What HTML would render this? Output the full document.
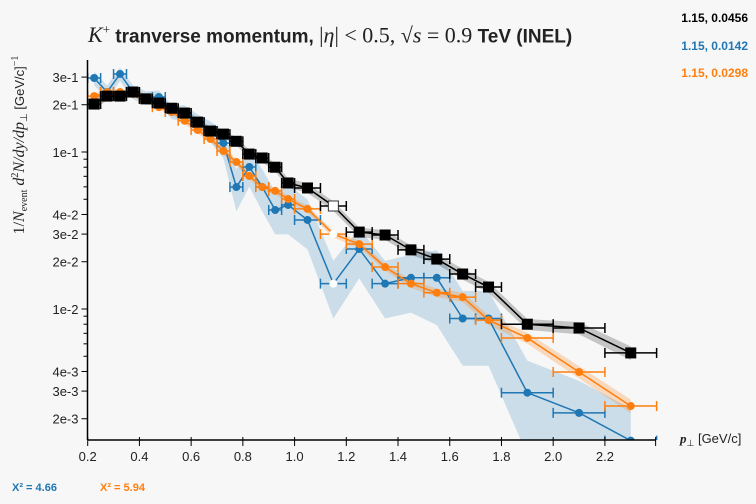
<!DOCTYPE html>
<html><head><meta charset="utf-8">
<style>
body{margin:0;background:#f7f7f7;}
#wrap{position:relative;width:756px;height:504px;background:#f7f7f7;font-family:"Liberation Sans",sans-serif;overflow:hidden}
.leg{position:absolute;right:8px;font-size:12px;font-weight:bold}
</style></head><body>
<div id="wrap">
<div style="position:absolute;left:88px;top:22px;font-size:19px;font-weight:bold;color:#222;white-space:nowrap"><span style="font-family:'Liberation Serif',serif;font-style:italic;font-weight:normal;font-size:22px">K<sup style="font-size:13px;font-style:normal">+</sup></span> tranverse momentum, <span style="font-family:'Liberation Serif',serif;font-weight:normal;font-size:22px">|<i>η</i>| &lt; 0.5, √<i>s</i> = 0.9</span> TeV (INEL)</div>
<div class="leg" style="top:11px;color:#000">1.15, 0.0456</div>
<div class="leg" style="top:39px;color:#1f77b4">1.15, 0.0142</div>
<div class="leg" style="top:66px;color:#ff7f0e">1.15, 0.0298</div>
<div style="position:absolute;left:12px;top:482px;font-size:11px;font-weight:bold;color:#1f77b4">X² = 4.66</div>
<div style="position:absolute;left:100px;top:482px;font-size:11px;font-weight:bold;color:#ff7f0e">X² = 5.94</div>
<svg id="svg" width="756" height="504" style="position:absolute;left:0;top:0"></svg>
</div>
<script>
const pts = [0.225,0.275,0.325,0.375,0.425,0.475,0.525,0.575,0.625,0.675,0.725,0.775,0.825,0.875,0.925,0.975,1.05,1.15,1.25,1.35,1.45,1.55,1.65,1.75,1.9,2.1,2.3];
const xerr = [0.025,0.025,0.025,0.025,0.025,0.025,0.025,0.025,0.025,0.025,0.025,0.025,0.025,0.025,0.025,0.025,0.05,0.05,0.05,0.05,0.05,0.05,0.05,0.05,0.1,0.1,0.1];
const blackVals = [0.202,0.227,0.227,0.241,0.218,0.205,0.19,0.177,0.155,0.136,0.130,0.117,0.097,0.0916,0.080,0.0635,0.059,0.0453,0.0309,0.0296,0.0238,0.0208,0.0167,0.0138,0.0080,0.00757,0.00525];
const blueVals = [0.296,0.241,0.314,0.241,0.221,0.224,0.18,0.177,0.155,0.136,0.114,0.0598,0.0803,0.0598,0.0427,0.046,0.0369,0.0145,0.0241,0.0145,0.0158,0.0158,0.0087,0.0087,0.00293,0.00218,0.00145];
const orangeVals = [0.227,0.241,0.241,0.234,0.218,0.193,0.18,0.158,0.138,0.121,0.1015,0.0864,0.0703,0.0598,0.0565,0.0502,0.0434,0.030,0.0259,0.0185,0.0145,0.0127,0.0119,0.0085,0.00654,0.00397,0.00241];
const blackRel = [0.08,0.06,0.06,0.06,0.06,0.06,0.06,0.06,0.06,0.06,0.06,0.06,0.06,0.06,0.06,0.07,0.07,0.07,0.07,0.07,0.07,0.07,0.08,0.08,0.08,0.09,0.1];
const blueRel = [0.1,0.1,0.1,0.1,0.1,0.1,0.1,0.12,0.12,0.15,0.2,0.3,0.25,0.3,0.3,0.35,0.35,0.4,0.35,0.4,0.4,0.5,0.5,0.5,0.6,0.6,0.6];
const orangeRel = [0.04,0.04,0.04,0.04,0.04,0.04,0.04,0.05,0.05,0.05,0.05,0.05,0.05,0.05,0.05,0.05,0.05,0.05,0.05,0.05,0.06,0.06,0.07,0.07,0.08,0.09,0.1];
const xTicks = [0.2,0.4,0.6,0.8,1.0,1.2,1.4,1.6,1.8,2.0,2.2];
const yTicks = [0.3,0.2,0.1,0.04,0.03,0.02,0.01,0.004,0.003,0.002];
const yTickLabels = ["3e-1","2e-1","1e-1","4e-2","3e-2","2e-2","1e-2","4e-3","3e-3","2e-3"];
const yMinor = [0.09,0.08,0.07,0.06,0.05,0.009,0.008,0.007,0.006,0.005];

const L=87.5,R=656,T=60,B=440;
const X=p=>87.7+(p-0.2)*258.6;
const Y=v=>152-(Math.log10(v)+1)*157;
const NS="http://www.w3.org/2000/svg";
const svg=document.getElementById('svg');
function mk(tag,attrs,parent){const e=document.createElementNS(NS,tag);for(const k in attrs)e.setAttribute(k,attrs[k]);(parent||svg).appendChild(e);return e;}
const clip=mk('clipPath',{id:'c'});mk('rect',{x:L,y:T,width:R-L+10,height:B-T},clip);
const g=mk('g',{'clip-path':'url(#c)'});
function band(vals,rel,color,op,name){
  let up=pts.map((p,i)=>X(p)+','+Y(vals[i]*(1+rel[i])));
  let dn=pts.map((p,i)=>X(p)+','+Y(vals[i]*(1-rel[i]))).reverse();
  const e=mk('polygon',{points:up.concat(dn).join(' '),fill:color,opacity:op},g);
  
  
}
band(blueVals,blueRel,'#1f77b4',0.2,'blue-band');
band(orangeVals,orangeRel,'#ff7f0e',0.25,'orange-band');
band(blackVals,blackRel,'#000',0.2,'black-band');
function series(vals,color,shape,name){
  const sg=mk('g',{},g);
  
  
  mk('polyline',{points:pts.map((p,i)=>X(p)+','+Y(vals[i])).join(' '),fill:'none',stroke:color,'stroke-width':1.5},sg);
  pts.forEach((p,i)=>{
    const y=Y(vals[i]),x0=X(p-xerr[i]),x1=X(p+xerr[i]);
    mk('line',{x1:x0,x2:x1,y1:y,y2:y,stroke:color,'stroke-width':1.5},sg);
    mk('line',{x1:x0,x2:x0,y1:y-5,y2:y+5,stroke:color,'stroke-width':1.5},sg);
    mk('line',{x1:x1,x2:x1,y1:y-5,y2:y+5,stroke:color,'stroke-width':1.5},sg);
    const fill=(p===1.15)?'#fff':color;
    let m;
    if(shape==='sq') m=mk('rect',{x:X(p)-5,y:y-5,width:10,height:10,fill:fill,stroke:fill==='#fff'?'#333':color},sg);
    else m=mk('circle',{cx:X(p),cy:y,r:4,fill:fill},sg);
    
    
  });
}
series(blueVals,'#1f77b4','c','blue-series');
series(orangeVals,'#ff7f0e','c','orange-series');
series(blackVals,'#000','sq','black-series');
// axes
mk('line',{x1:L,x2:L,y1:T,y2:B,stroke:'#000','stroke-width':1.5});
mk('line',{x1:L,x2:R,y1:B,y2:B,stroke:'#000','stroke-width':1.5});
xTicks.forEach(t=>{
  mk('line',{x1:X(t),x2:X(t),y1:B-3,y2:B+6,stroke:'#000'});
  const tx=mk('text',{x:X(t),y:B+21,'text-anchor':'middle','font-size':13,fill:'#222','font-family':'Liberation Sans, sans-serif'});
  tx.textContent=t.toFixed(1);
  
  
});
[2.4].forEach(t=>mk('line',{x1:X(t)-1,x2:X(t)-1,y1:B-3,y2:B+6,stroke:'#000'}));
yTicks.forEach((t,i)=>{
  mk('line',{x1:L-6,x2:L,y1:Y(t),y2:Y(t),stroke:'#000'});
  const tx=mk('text',{x:L-9,y:Y(t)+5,'text-anchor':'end','font-size':13,fill:'#222','font-family':'Liberation Sans, sans-serif'});
  tx.textContent=yTickLabels[i];
  
  
});
yMinor.forEach(t=>mk('line',{x1:L-4,x2:L,y1:Y(t),y2:Y(t),stroke:'#000'}));
const xl=mk('text',{x:680,y:443,'font-size':13,fill:'#222','font-family':'Liberation Sans, sans-serif'});
xl.innerHTML='<tspan font-family="Liberation Serif" font-style="italic" font-weight="bold">p</tspan><tspan font-size="9" dy="3">⊥</tspan><tspan dy="-3"> [GeV/c]</tspan>';


const yl=mk('text',{x:0,y:0,'font-size':16,fill:'#222','font-family':'Liberation Serif, serif',transform:'translate(24,145) rotate(-90)','text-anchor':'middle'});
yl.innerHTML='1/<tspan font-style="italic">N</tspan><tspan font-size="10" dy="3">event</tspan><tspan dy="-3" font-style="italic"> d</tspan><tspan font-size="10" dy="-6">2</tspan><tspan dy="6" font-style="italic">N/dy/dp</tspan><tspan font-size="10" dy="3">⊥</tspan><tspan dy="-3" font-family="Liberation Sans" font-size="13"> [GeV/c]</tspan><tspan font-size="10" dy="-6">−1</tspan>';


</script>
</body></html>
